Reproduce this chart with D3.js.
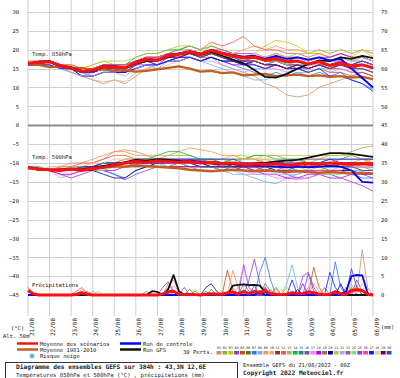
<!DOCTYPE html>
<html>
<head>
<meta charset="utf-8">
<script src="https://cdn.jsdelivr.net/npm/d3@7"></script>
<style>
  body { margin: 0; background: #fff; }
  text { font-family: "DejaVu Sans Mono", monospace; fill: #222; }
</style>
</head>
<body>
<div id="chart"></div>
<script>
// Dates (one label per day, 00Z)
const dayLabels = ["21/08","22/08","23/08","24/08","25/08","26/08","27/08","28/08","29/08",
  "30/08","31/08","01/09","02/09","03/09","04/09","05/09","06/09"];
const leftTicks = [30,25,20,15,10,5,0,-5,-10,-15,-20,-25,-30,-35,-40,-45];
const rightTicks = [0,5,10,15,20,25,30,35,40,45,50,55,60,65,70,75];

// Temperatures 850hPa, 12h steps (°C)
const mean850 = [16.4,16.6,16.8,15.8,15.2,14.2,14.6,15.6,15.4,15.2,16.6, 17.4,17.2,18.4,18.8,19.4,18.8,19.8,19,18.4,17.8,18, 17.2,17.6,16.8,17,16.2,16.8,15.8,16.4,15.6,16,15.2];
const clim850 = [16.2,16,15.4,15.6,15,15.2,14.6,14.8,14.4,14.6,14.2, 14.4,14.8,15.2,15.6,15,14.2,14.4,13.8,14,13.2,13.4, 13.6,13,13.2,13.4,13,13.2,12.8,13,12.6,12.8,12.2];
const ctrl850 = [16.4,16.8,16.8,15.6,15,14,14.6,15.8,15.6,15.2,16.8, 17.6,17.4,18.6,19,19.6,19,20,19.2,18.6,18.2,18.4, 17.6,18.4,17.6,18,17.4,18,17.2,17.6,15,12.5,10];
const gfs850 = [16.4,16.8,17,15.8,15.4,14.4,14.4,15.4,15.6,15.2,16.4, 17,17.2,18,18.8,19.2,18.6,19.4,18.4,17.4,16.4,14.6, 12.8,12.6,13.6,15,16.2,17.2,17,18,17.6,18.4,17.8];
const perts850 = [
  [16,17,17,16,14,13,12,11,12,11,13, 15,16,17,18,18,17,18,16,15,14,13, 11,10,8,7.5,8,10,11,12,13,13,12],
  [16,16,17,16,15,14,15,16,16,15,17, 18,18,19,20,20,19,21,20,19,19,19, 18,19,18,18,17,18,17,18,17,17,16],
  [16,17,17,16,15,15,16,17,16,16,17, 18,17,19,19,20,19,20,19,18,18,19, 21,22.5,22,21,19,19,18,19,18,20,19],
  [16,17,17,16,15,13,13,14,14,14,16, 17,16,18,18,19,18,19,18,17,16,17, 16,17,16,15,15,16,15,15,14,14,13],
  [17,17,17,16,16,15,15,16,15,15,16, 17,17,18,19,19,18,19,18,18,17,17, 16,16,15,15,14,15,14,14,13,14,13],
  [16,16,17,15,15,14,14,15,15,15,16, 17,17,18,19,19,19,20,19,19,18,18, 17,18,17,17,16,17,16,17,16,16,15],
  [16,17,17,16,15,14,13,14,14,14,15, 16,16,17,18,19,18,18,17,16,15,14, 13,14,13,14,13,14,13,14,12,11,9.5],
  [16,16,16,15,14,13,14,15,14,14,15, 16,15,17,17,18,17,16,15,14,13,12, 12,13,13,14,14,15,15,16,15,16,15],
  [16,17,17,16,15,15,15,16,16,16,17, 18,18,19,19,20,19,20,19,19,20,21, 20,21,20,20,19,20,19,20,19,20,19],
  [16,16,16,15,14,13,12,11.5,12,11.5,14, 15,15,16,17,18,17,18,17,17,16,16, 15,16,15,16,15,16,15,16,15,15,14],
  [16,17,17,16,15,14,15,16,16,15,17, 18,18,19,19,20,19,20,19,18,18,18, 17,17,16,17,16,17,16,17,16,16,15],
  [16,17,17,16,16,15,15,16,16,16,17, 18,18,19,20,21,20,22,21,22,23.5,21, 20,20,19,19,18,19,18,19,18,18,17],
  [16,16,17,16,15,14,14,15,15,14,16, 17,17,18,19,19,18,19,18,18,17,17, 16,17,16,16,15,16,16,17,16,16,15],
  [16,17,17,16,15,15,15,16,16,16,18, 19,19,20,20,21,20,21,20,19,18,18, 17,18,17,18,17,18,17,18,17,18,17],
  [16,16,16,15,15,14,14,15,15,15,16, 17,17,18,18,19,18,19,18,18,17,18, 17,17,16,16,16,17,16,16,15,16,15],
  [16,17,17,16,15,14,15,16,15,15,16, 17,17,18,19,19,18,19,18,17,17,18, 18,19,18,18,17,18,17,17,16,17,16],
  [16,16,17,15,15,14,14,15,15,15,17, 17,17,18,18,19,18,19,18,17,16,16, 15,15,14,15,14,15,14,15,14,15,14],
  [16,17,17,16,15,14,14,15,14,14,15, 16,16,17,18,18,17,18,17,16,16,17, 16,17,17,18,17,18,18,19,18,18,17],
  [16,16,17,16,15,14,14,15,15,15,16, 17,17,18,19,19,18,19,19,18,18,18, 17,17,16,16,15,16,15,16,16,17,16],
  [16,17,17,16,15,13,13,14,14,14,15, 16,16,17,17,18,17,18,17,17,16,17, 16,16,15,16,15,16,15,16,15,15,14],
  [16,17,17,16,16,15,16,17,17,17,18, 19,19,20,21,21,20,21,20,19,18,17, 18,19,18,19,19,20,19,20,19,20,18],
  [16,16,16,15,14,13,13,14,14,13,15, 16,16,17,17,18,17,17,16,15,14,15, 15,16,15,16,16,17,17,18,17,17,16],
  [16,17,17,16,15,14,15,16,16,16,17, 18,17,18,19,19,18,19,18,17,17,17, 16,17,16,16,15,16,15,16,15,15,14],
  [16,16,17,16,15,14,14,15,15,15,16, 17,17,18,18,19,18,19,18,18,17,17, 16,17,16,17,16,16,15,16,15,16,15],
  [16,17,17,16,15,14,14,15,15,15,16, 16,16,17,18,19,19,20,19,18,17,16, 15,16,15,16,15,16,16,17,16,17,16],
  [16,17,17,16,15,15,15,16,16,16,17, 18,18,19,19,20,19,20,20,19,19,19, 18,18,17,17,16,17,16,17,16,16,15],
  [16,16,16,15,15,14,14,15,15,14,16, 17,16,17,18,18,17,18,17,17,16,16, 15,16,15,15,14,15,13,13,12,11,9],
  [16,17,17,16,15,14,15,16,15,15,16, 17,17,18,19,20,19,20,19,19,18,19, 18,19,18,18,17,18,17,18,17,18,17],
  [16,16,17,16,15,14,14,15,15,15,16, 17,17,18,18,19,18,19,18,17,17,17, 16,16,15,16,15,16,15,16,15,16,15],
  [16,17,17,16,15,14,14,15,15,15,16, 17,17,18,19,19,19,20,19,18,18,18, 17,18,17,17,16,17,16,16,16,17,16]
];

// Temperatures 500hPa, 12h steps (°C)
const mean500 = [-11.2,-11.6,-11.8,-12,-11.6,-12,-11.4,-11.2,-10.6,-10,-9.6, -9.8,-9.4,-9.6,-9.8,-9.6,-10,-9.8,-10.2,-10,-10.4,-10.2, -10.4,-10.2,-10.6,-10.4,-10.2,-10.4,-10,-10.2,-10.4,-10.2,-10.4];
const clim500 = [-11.4,-11.6,-11.8,-11.6,-11.8,-11.6,-11.4,-11,-10.8,-11,-10.6, -10.8,-11,-11.2,-11.4,-11.8,-12,-12.2,-12,-11.8,-12,-12.2, -12,-12.2,-12.4,-12.2,-12.4,-12.6,-12.4,-12.6,-12.8,-12.6,-12.8];
const ctrl500 = [-11.2,-11.6,-11.8,-12,-11.6,-12,-11.4,-11.2,-10.6,-10,-9.6, -9.8,-9.4,-9.6,-9.8,-9.4,-9.6,-9.8,-10,-10.2,-10.4,-10.6, -10.8,-11,-11.2,-11,-11.2,-11,-10.8,-11,-12,-15,-15.2];
const gfs500 = [-11.2,-11.6,-12,-11.8,-11.6,-11.8,-11.2,-10.8,-10.4,-9.8,-9.2, -9.4,-9,-9.2,-9.4,-9.8,-10,-10.2,-10.4,-10.4,-10.6,-10.2, -10,-9.6,-9.4,-9.2,-8.6,-8,-7.4,-7.4,-7.6,-8,-8.4];
const perts500 = [
  [-11,-12,-12,-12,-11,-11,-10,-9,-7,-6.5,-7, -8,-9,-9,-10,-9,-10,-10,-11,-10,-11,-11, -12,-11,-11,-10,-11,-10,-10,-11,-10,-10,-11],
  [-11,-12,-12,-12,-12,-12,-11,-11,-10,-10,-9, -9,-9,-8,-8,-8,-9,-9,-10,-10,-9,-8, -8,-8,-9,-9,-10,-9,-8,-8,-7,-6,-5.5],
  [-11,-11,-12,-12,-12,-12,-12,-12,-11,-11,-10, -10,-9,-9,-10,-10,-10,-9,-9,-8,-8,-9, -10,-10,-11,-11,-12,-12,-11,-11,-10,-10,-9],
  [-11,-12,-12,-13,-14,-13,-12,-12,-13,-14.5,-13, -12,-11,-11,-10,-10,-11,-11,-12,-12,-11,-11, -12,-12,-13,-14,-14,-13,-13,-14,-15,-16,-17.5],
  [-11,-12,-12,-12,-11,-11,-11,-10,-10,-9,-9, -9,-10,-10,-10,-11,-11,-11,-12,-12,-12,-12, -11,-11,-11,-12,-12,-12,-12,-12,-11,-11,-11],
  [-11,-12,-12,-12,-12,-11,-11,-11,-10,-10,-9, -9,-9,-10,-10,-10,-10,-10,-10,-11,-11,-11, -10,-10,-10,-10,-11,-11,-11,-10,-10,-11,-11],
  [-11,-12,-12,-12,-12,-12,-12,-12,-13,-14,-12, -11,-10,-10,-10,-9,-9,-10,-10,-11,-11,-12, -12,-11,-11,-12,-12,-13,-12,-12,-13,-14,-14],
  [-11,-11,-12,-12,-12,-12,-11,-11,-11,-10,-10, -10,-10,-11,-11,-11,-12,-12,-12,-13,-13,-14, -15,-15.5,-14,-13,-12,-11,-11,-10,-11,-11,-12],
  [-11,-12,-11,-11,-10,-10,-9,-8,-7,-7,-8, -8,-8,-8,-7,-6,-6.5,-7,-8,-8,-9,-9, -9,-10,-10,-10,-9,-9,-9,-10,-10,-9,-9],
  [-11,-12,-12,-12,-12,-11,-11,-10,-10,-9,-9, -10,-10,-10,-11,-11,-11,-11,-10,-10,-10,-10, -9,-9,-9,-10,-10,-11,-11,-11,-12,-12,-12],
  [-11,-12,-12,-12,-11,-11,-11,-11,-10,-10,-10, -10,-10,-10,-10,-10,-11,-11,-11,-11,-11,-11, -11,-11,-10,-10,-10,-10,-10,-11,-11,-11,-11],
  [-11,-12,-12,-11,-11,-10,-10,-9,-8,-8,-9, -9,-9,-9,-10,-10,-10,-10,-10,-9,-9,-9, -10,-10,-10,-11,-11,-10,-10,-9,-9,-9,-10],
  [-11,-12,-12,-12,-12,-12,-11,-11,-11,-11,-10, -10,-10,-10,-9,-9,-9,-9,-9,-10,-10,-10, -10,-11,-11,-11,-11,-11,-11,-11,-11,-12,-12],
  [-11,-11,-12,-12,-11,-11,-11,-10,-10,-10,-10, -9,-8,-7,-7,-8,-9,-9,-10,-9,-9,-8, -8,-9,-9,-9,-10,-10,-9,-9,-8,-9,-9],
  [-11,-12,-12,-12,-12,-12,-12,-11,-11,-11,-10, -10,-10,-10,-10,-11,-11,-11,-11,-12,-12,-12, -12,-12,-11,-11,-11,-11,-12,-12,-12,-12,-12],
  [-11,-12,-12,-12,-12,-11,-11,-11,-10,-10,-9, -9,-10,-10,-10,-10,-10,-11,-11,-11,-10,-10, -10,-10,-10,-9,-9,-9,-9,-10,-10,-10,-10],
  [-11,-12,-12,-14,-13,-12,-12,-11,-11,-11,-11, -11,-11,-11,-11,-11,-12,-12,-12,-12,-12,-13, -13,-14,-14,-14.5,-14,-13,-12,-12,-11,-11,-12],
  [-11,-12,-12,-13,-13,-12,-12,-12,-12,-11,-10, -10,-10,-10,-10,-10,-10,-10,-11,-11,-11,-12, -13,-13,-14,-14,-13,-13,-14,-14,-13,-13,-13],
  [-11,-12,-12,-12,-12,-11,-11,-10,-10,-10,-10, -10,-10,-10,-10,-10,-10,-10,-10,-10,-10,-10, -10,-10,-11,-11,-11,-11,-11,-11,-11,-11,-11],
  [-11,-12,-12,-12,-12,-12,-12,-13,-14,-14,-12, -11,-10,-10,-10,-10,-10,-11,-11,-11,-11,-11, -11,-12,-12,-12,-12,-12,-12,-12,-12,-13,-13],
  [-11,-12,-12,-12,-12,-11,-11,-10,-10,-9,-9, -9,-9,-9,-9,-9,-9,-9,-9,-9,-9,-9, -8,-8,-8,-8,-8,-8,-8,-8,-8,-9,-9],
  [-11,-12,-12,-12,-12,-12,-11,-11,-11,-11,-10, -10,-10,-10,-10,-11,-11,-11,-12,-12,-13,-13, -13,-13,-13,-13,-12,-12,-12,-11,-11,-11,-11],
  [-11,-12,-12,-12,-11,-11,-11,-10,-10,-10,-10, -10,-10,-10,-10,-10,-10,-10,-10,-11,-11,-11, -11,-11,-11,-10,-10,-10,-10,-10,-10,-10,-11],
  [-11,-11,-12,-12,-12,-12,-12,-12,-11,-11,-11, -11,-11,-10,-10,-10,-10,-10,-10,-10,-10,-10, -11,-11,-11,-12,-12,-13,-13,-13,-12,-12,-12],
  [-11,-12,-12,-12,-12,-12,-12,-11,-11,-10,-10, -10,-10,-10,-10,-10,-10,-10,-10,-10,-11,-11, -11,-10,-10,-10,-10,-10,-11,-11,-12,-13,-14],
  [-11,-12,-12,-12,-12,-11,-11,-11,-10,-10,-10, -10,-9,-9,-9,-9,-10,-10,-10,-10,-10,-11, -11,-11,-12,-12,-12,-12,-12,-12,-13,-13,-13],
  [-11,-12,-12,-12,-12,-11,-11,-10,-10,-10,-9, -9,-9,-9,-9,-9,-9,-9,-9,-9,-10,-10, -10,-10,-10,-10,-10,-10,-9,-9,-9,-9,-9],
  [-11,-12,-12,-12,-11,-11,-10,-10,-9,-9,-9, -9,-9,-10,-10,-10,-10,-10,-10,-10,-9,-9, -9,-9,-10,-10,-10,-10,-10,-10,-11,-11,-11],
  [-11,-12,-12,-12,-12,-12,-12,-11,-11,-11,-11, -11,-11,-11,-11,-11,-11,-11,-11,-11,-11,-11, -11,-11,-11,-10,-10,-10,-10,-10,-10,-10,-10],
  [-11,-12,-12,-12,-12,-11,-11,-11,-11,-10,-10, -10,-10,-10,-10,-10,-11,-11,-11,-11,-12,-12, -12,-12,-12,-11,-11,-11,-11,-11,-11,-12,-12]
];

// Precipitation, 6h steps (mm)
const meanPrecip = [1.2,0.3,0,0,0, 0,0,0,0,0.2, 0.6,0.2,0,0,0, 0,0,0,0,0, 0,0,0,0,0, 0.3,0.8,1,0.2,0.1, 0.1,0.1,0,0.2,0.3, 0.2,0.2,0.6,0.8,0.2, 1,0.3,1,0.6,1.2, 0.3,0.2,0.1,0.2,0.6, 0.3,0.4,0.8,0.6,0.2, 0.1,0.2,0.8,0.3,0.2, 1.2,1.4,1.2,0.2,0];
const ctrlPrecip = [0,0,0,0,0, 0,0,0,0,0, 0.5,0,0,0,0, 0,0,0,0,0, 0,0,0,0,0, 0,0,0,0,0, 0,0,0,0,0, 0,0,0,0,0, 0,0,0,1,0, 0,0,0,0,0, 0,0,0,0,0, 0,0,0,0,1, 5,5.3,5.2,0.5,0];
const gfsPrecip = [0,0,0,0,0, 0,0,0,0,0, 0,0,0,0,0, 0,0,0,0,0, 0,0,0,1,0.8, 0,1.5,5.3,1,0, 0,0,0,0,0, 0,0,0,2.5,2.7, 2.8,2.6,2.7,2.5,0.8, 0,0,0,0,0, 0,0,0,0,0, 0,0,1,0.5,0, 0,0,0,0,0];
const pertsPrecip = [
  [1,0,0,0,0, 0,0,0,0,0, 0,0,0,0,0, 0,0,0,0,0, 0,0,0,0,0, 0,3,1,0,0, 0,0,0,0,0, 0,0,0,0,0, 0,0,0,0,0, 0,0,0,0,0, 0,0,0,3,1, 0,0,0,0,0, 0,0,12,2,0],
  [0,0,0,0,0, 0,0,0,0,0, 1,0,0,0,0, 0,0,0,0,0, 0,0,0,0,0, 0,0,0,0,0, 0,0,0,0,0, 0,0,0,2,0, 0,0,0,0,0, 1.5,0,0,0,0, 0,0,0,0,0, 0,0,0,0,0, 0,0,0,0,0],
  [0,0,0,0,0, 0,0,0,0,0, 0,0,0,0,0, 0,0,0,0,0, 0,0,0,0,0, 0,0,0,0,0, 0,0,0,0,0, 0,1,0,0,0, 0,0,0,0,0, 0,0,0,2,1, 0,0,0,0,0, 0,0,0,0,0, 0,0,0,0,0],
  [0,0,0,0,0, 0,0,0,0,0, 0,0,0,0,0, 0,0,0,0,0, 0,0,0,0,0, 2,3.5,1,0,0, 0,0,0,0,0, 0,0,0,0,0, 0,4,9.5,3,0, 0,0,0,0,0, 0,5,6,2,0, 0,0,0,0,0, 0,0,0,0,0],
  [0,0,0,0,0, 0,0,0,0,0, 0,0,0,0,0, 0,0,0,0,0, 0,0,0,0,0, 0,0,0,0,0, 0,0,0,0,0, 0,0,6.6,1,0, 0,0,0,0,0, 0,0,0,0,0, 0,0,0,7.4,2, 0,0,0,0,0, 0,0,0,0,0],
  [0,0,0,0,0, 0,0,0,0,0, 0,1,0,0,0, 0,0,0,0,0, 0,0,0,0,0, 0,0,0,0,0, 1.5,0,0,0,0, 0,0,0,0,0, 0,0,0,0,2, 0,0,0,0,0, 0,0,0,0,0, 0,0,0,0,0, 0,0,0,0,0],
  [0,0,0,0,0, 0,0,0,0,0, 0,0,0,0,0, 0,0,0,0,0, 0,0,0,0,0, 0,0,0,0,0, 0,0,0,0,0, 0,0,0,0,0, 0,0,0,6,10, 4,0,0,0,0, 0,0,0,0,0, 0,0,8.8,2,0, 0,0,0,0,0],
  [0,0,0,0,0, 0,0,0,0,0, 0,0,1,0,0, 0,0,0,0,0, 0,0,0,0,0, 0,0,0,0,0, 0,0,0,0,0, 0,0,0,0,0, 0,0,0,0,0, 0,0,0,3,8, 2,0,0,0,0, 0,0,0,0,0, 0,0,0,0,0],
  [0,0,0,0,0, 0,0,0,0,0, 0,0,0,0,0, 0,0,0,0,0, 0,0,0,0,0, 0,2,4,1,0, 0,0,0,0,0, 0,0,0,6.5,2, 0,0,0,0,0, 0,0,0,0,0, 0,0,0,0,0, 0,0,0,0,0, 0,0,0,0,0],
  [0,0,0,0,0, 0,0,0,0,0, 1.5,0.5,0,0,0, 0,0,0,0,0, 0,0,0,0,0, 0,0,0,0,0, 0,0,0,0,0, 1,0,0,0,0, 0,0,0,0,0, 0,0,0,0,0, 0,0,0,0,0, 0,0,0,0,0, 0,0,0,0,0],
  [2,0.5,0,0,0, 0,0,0,0,0, 0,0,0,0,0, 0,0,0,0,0, 0,0,0,0,0, 0,0,0,0,0, 0,0,0,0,1.5, 0,0,0,0,0, 0,0,0,0,0, 0,0,0,0,0, 0,0,0,0,0, 0,0,0,0,0, 0,0,0,0,0],
  [0,0,0,0,0, 0,0,0,0,1, 2,0.5,0,0,0, 0,0,0,0,0, 0,0,0,0,0, 0,0,0,0,0, 0,0,0,0,0, 0,0,0,0,0, 0,0,0,0,0, 0,0,0,0,0, 0,0,0,0,0, 0,0,0,0,0, 2,0,0,0,0],
  [0,0,0,0,0, 0,0,0,0,0, 0,0,0,0,0, 0,0,0,0,0, 0,0,0,0,0, 0,0,0,0,0, 0,0,0,0,0, 0,0,0,0,0, 0,0,0,0,0, 0,1.5,0,0,0, 0,0,0,0,0, 0,0,0,0,0, 3,0,0,0,0],
  [0,0,0,0,0, 0,0,0,0,0, 0,0,0,0,0, 0,0,0,0,0, 0,0,1,0,0, 0,0,0,0,0, 0,0,0,1,0, 0,0,0,0,0, 0,0,0,0,0, 0,0,0,0,0, 1,0,0,0,0, 0,0,0,0,0, 0,0,0,0,0],
  [0,0,0,0,0, 0,0,0,0,0, 0,0,0,0,0, 0,0,0,0,0, 0,0,0,0,0, 0,0,0,0,0, 0,0,0,0,0, 0,0,0,0,0, 3,1,0,0,0, 0,0,0,0,0, 0,0,0,0,0, 0,0,0,0,2, 0,0,0,0,0],
  [0,0,0,0,0, 0,0,0,0,0, 0,0,0,0,0, 0,0,0,0,0, 0,0,0,0,0, 0,0,0,0,0, 0,0,0,0,0, 0,0,0,0,0, 0,0,0,0,3, 1,0,0,0,0, 0,0,0,0,0, 0,0,0,0,0, 0,4,1,0,0],
  [0,0,0,0,0, 0,0,0,0,0, 0,0,0,0,0, 0,0,0,0,0, 0,0,0,0,0, 0,0,2.5,1,0, 0,0,0,0,0, 0,0,0,0,0, 0,0,0,0,0, 0,0,0,0,0, 0,0,2,0,0, 0,0,0,0,0, 0,0,0,0,0],
  [0,0,0,0,0, 0,0,0,0,0, 0,0,0,0,0, 0,0,0,0,0, 0,0,0,0,0, 0,0,0,0,0, 0,0,0,0,0, 0,0,0,0,0, 8,2,0,0,0, 0,0,0,0,0, 0,3,0,0,0, 0,0,0,0,0, 0,0,0,0,0],
  [0,0,0,0,0, 0,0,0,0,0, 0,0,0,0,0, 0,0,0,0,0, 0,0,0,0,0, 0,0,0,0,0, 0,1,0,0,0, 0,0,0,0,0, 0,0,0,0,0, 0,2,0,0,0, 0,0,0,0,0, 0,0,0,0,0, 0,0,0,0,0],
  [0,0,0,0,0, 0,0,0,0,0, 0,0,0,0,0, 0,0,0,0,0, 0,0,0,0,0, 0,0,0,0,0, 0,0,0,2,3, 1,0,0,0,0, 0,0,0,0,0, 0,0,0,0,0, 0,0,0,0,0, 0,0,0,3,0, 0,0,0,0,0],
  [0,0,0,0,0, 0,0,0,0,0, 0,0,0,0,0, 0,0,0,0,0, 0,0,0,0,0, 0,0,0,0,0, 0,0,0,0,0, 0,0,0,0,0, 0,0,0,0,0, 0,0,1.5,0,0, 0,0,0,0,0, 0,0,0,0,0, 0,0,0,0,0],
  [0,0,0,0,0, 0,0,0,0,0, 0,0,0,0,0, 0,0,0,0,0, 0,0,0,0,0, 0,0,0,0,0, 0,0,0,0,0, 0,0,0,0,2, 7.5,2,0,0,0, 0,0,0,0,0, 0,0,0,0,0, 0,0,0,0,0, 0,0,0,0,0],
  [0,0,0,0,0, 0,0,0,0,0, 0,0,0,0,0, 0,0,0,0,0, 0,0,0,0,0, 0,1.5,0,0,0, 0,0,0,0,0, 0,0,0,0,0, 0,0,0,0,0, 0,0,0,0,0, 0,0,0,0,0, 2,0,0,0,0, 0,0,0,0,0],
  [0,0,0,0,0, 0,0,0,0,0, 0,0,0,1,0, 0,0,0,0,0, 0,0,0,0,0, 0,0,0,0,0, 0,1.5,0,0,0, 0,0,0,0,0, 0,0,0,0,0, 0,0,0,0,0, 0,0,0,0,0, 0,0,0,0,0, 0,0,0,0,0],
  [0,0,0,0,0, 0,0,0,0,0, 0,0,0,0,0, 0,0,0,0,0, 0,0,0,0,0, 0,0,0,0,2, 0,0,0,0,0, 0,0,0,0,0, 0,0,0,0,0, 0,0,0,0,0, 0,0,5.8,1,0, 0,0,0,0,0, 0,0,0,0,0],
  [0,0,0,0,0, 0,0,0,0,0, 0,0,0,0,0, 0,0,0,0,0, 0,0,0,0,0, 0,0,0,0,0, 0,0,0,0,0, 0,0,0,0,0, 0,0,0,0,2, 0,0,0,0,0, 0,0,0,0,0, 0,0,0,0,0, 0,2.5,0,0,0],
  [0,0,0,0,0, 0,0,0,0,0, 0,0,0,0,0, 0,0,0,0,0, 0,0,0,0,0, 0,0,0,0,0, 0,0,0,0,0, 0,0,0,0,0, 0,0,0,0,0, 0,0,0,0,4, 0,0,0,0,0, 0,6,2,0,0, 0,0,0,0,0],
  [0,0,0,0,0, 0,0,0,0,0, 0,0,0,0,0, 0,0,0,0,0, 0,0,0,0,0, 0,0,0,0,0, 0,0,0,0,0, 0,1.5,0,0,0, 0,0,0,0,0, 0,0,0,0,0, 0,0,0,0,0, 0,0,0,0,0, 0,0,3,0,0],
  [0,0,0,0,0, 0,0,0,0,0, 0,0,0,0,0, 0,0,0,0,0, 0,0,0,0,0, 0,0,0,1,0, 0,0,0,0,0, 0,0,0,0,0, 0,0,0,0,0, 0,0,0,0,0, 1.5,0,0,0,0, 0,0,0,0,0, 0,0,0,0,0],
  [0,0,0,0,0, 0,0,0,0,0, 0,0,0,0,0, 0,0,0,0,0, 0,0,0,0,0, 0,0,0,0,0, 0,0,0,0,0, 0,0,0,0,0, 0,0,2.5,0,0, 0,0,0,0,0, 0,0,0,0,0, 0,0,0,0,0, 7,2,0,0,0]
];

const pertColors = ["#d09060","#90b040","#c8c800","#9040c0","#c05010","#607800","#3070ff","#70b0f0",
  "#ff9050","#e0b090","#804020","#ff5050","#b0b060","#00c040","#308080","#6060a0","#ff80e0",
  "#b000ff","#907050","#0000a0","#c0c040","#b0a0ff","#906090","#80e080","#8040ff","#ff40a0",
  "#0020ff","#e8c8a0","#800040","#4040c0"];
const pertNames = d3.range(1, 31).map(d => String(d).padStart(2, '0'));

// Chart setup
const width = 400;
const height = 378;
const plot = { left: 28, right: 373, top: 0, bottom: 316 };

const svg = d3.select('#chart')
  .append('svg')
  .attr('width', width)
  .attr('height', height);

svg.append('rect').attr('width', width).attr('height', height).attr('fill', '#fff');

const x = d3.scaleLinear().domain([0, 384]).range([plot.left, plot.right]);
const yT = d3.scaleLinear().domain([-45, 30]).range([295, 12]);
const yP = d3.scaleLinear().domain([0, 75]).range([295, 12]);
const dayHours = dayLabels.map((d, i) => i * 24);

// Grid
const grid = svg.append('g');
grid.selectAll('.vgrid')
  .data(dayHours)
  .enter()
  .append('line')
  .attr('x1', d => x(d)).attr('x2', d => x(d))
  .attr('y1', plot.top).attr('y2', plot.bottom)
  .attr('stroke', '#cfcfcf')
  .attr('stroke-width', 1);

grid.selectAll('.hgrid')
  .data(leftTicks)
  .enter()
  .append('line')
  .attr('x1', plot.left).attr('x2', plot.right)
  .attr('y1', d => Math.round(yT(d)) + 0.5).attr('y2', d => Math.round(yT(d)) + 0.5)
  .attr('stroke', d => d === 0 ? '#8c8c8c' : '#cfcfcf')
  .attr('stroke-width', d => d === 0 ? 2 : 1);

// Axes
const leftAxis = svg.append('g')
  .attr('transform', 'translate(19,0)')
  .call(d3.axisLeft(yT).tickValues(leftTicks).tickSize(0).tickPadding(0));
const rightAxis = svg.append('g')
  .attr('transform', 'translate(381,0)')
  .call(d3.axisRight(yP).tickValues(rightTicks).tickSize(0).tickPadding(0));
[leftAxis, rightAxis].forEach(a => {
  a.select('.domain').remove();
  a.attr('font-family', null).attr('font-size', null);
  a.selectAll('text').attr('font-size', '5.5px').attr('fill', '#222');
});

const dateAxis = svg.append('g')
  .attr('transform', `translate(0,${plot.bottom})`)
  .call(d3.axisBottom(x).tickValues(dayHours).tickFormat((d, i) => dayLabels[i]).tickSize(0));
dateAxis.select('.domain').remove();
dateAxis.attr('font-family', null).attr('font-size', null);
dateAxis.selectAll('text')
  .attr('transform', 'rotate(-90)')
  .attr('text-anchor', 'end')
  .attr('x', -2)
  .attr('y', 5)
  .attr('dy', 0)
  .attr('font-size', '6px')
  .attr('fill', '#222');

// Section labels
const sectionLabels = [
  { text: 'Temp. 850hPa', x: 32, y: 56 },
  { text: 'Temp. 500hPa', x: 32, y: 159 },
  { text: 'Précipitations', x: 32, y: 287 }
];
svg.selectAll('.section')
  .data(sectionLabels)
  .enter()
  .append('text')
  .attr('x', d => d.x)
  .attr('y', d => d.y)
  .attr('font-size', '5.5px')
  .text(d => d.text);

// Line generators
const lineT = d3.line().x((d, i) => x(i * 12)).y(d => yT(d));
const lineP = d3.line().x((d, i) => x(i * 6)).y(d => yP(d));

const members = svg.append('g').attr('fill', 'none').attr('stroke-width', 0.8);
[perts850, perts500].forEach(set => {
  members.selectAll(null)
    .data(set)
    .enter()
    .append('path')
    .attr('d', lineT)
    .attr('stroke', (d, i) => pertColors[i]);
});
members.selectAll(null)
  .data(pertsPrecip)
  .enter()
  .append('path')
  .attr('d', lineP)
  .attr('stroke', (d, i) => pertColors[i]);

// Thick lines: climate, GFS, control, ensemble mean
const thick = [
  { data: clim850, gen: lineT, color: '#c0601c', w: 2.4 },
  { data: clim500, gen: lineT, color: '#c0601c', w: 2.4 },
  { data: gfs850, gen: lineT, color: '#101010', w: 1.8 },
  { data: gfs500, gen: lineT, color: '#101010', w: 1.8 },
  { data: gfsPrecip, gen: lineP, color: '#101010', w: 1.8 },
  { data: ctrl850, gen: lineT, color: '#0000ff', w: 1.8 },
  { data: ctrl500, gen: lineT, color: '#0000ff', w: 1.8 },
  { data: ctrlPrecip, gen: lineP, color: '#0000ff', w: 1.8 },
  { data: mean850, gen: lineT, color: '#ff1010', w: 3 },
  { data: mean500, gen: lineT, color: '#ff1010', w: 3 },
  { data: meanPrecip, gen: lineP, color: '#ff1010', w: 3 }
];
svg.append('g').attr('fill', 'none')
  .selectAll('path')
  .data(thick)
  .enter()
  .append('path')
  .attr('d', d => d.gen(d.data))
  .attr('stroke', d => d.color)
  .attr('stroke-width', d => d.w)
  .attr('stroke-linejoin', 'round');

// Unit labels
svg.append('text').attr('x', 11).attr('y', 330).attr('font-size', '5.5px').text('(°C)');
svg.append('text').attr('x', 3).attr('y', 338).attr('font-size', '5.5px').text('Alt. 50m');
svg.append('text').attr('x', 381).attr('y', 329).attr('font-size', '5.5px').text('(mm)');

// Legend
const legendItems = [
  { label: 'Moyenne des scénarios', color: '#ff1010', x: 17, y: 343.5 },
  { label: 'Moyenne 1981-2010', color: '#c0601c', x: 17, y: 349.5 },
  { label: 'Run de controle', color: '#0000ff', x: 120, y: 343.5 },
  { label: 'Run GFS', color: '#101010', x: 120, y: 349.5 }
];
const legend = svg.append('g');
legend.selectAll('line')
  .data(legendItems)
  .enter()
  .append('line')
  .attr('x1', d => d.x).attr('x2', d => d.x + 21)
  .attr('y1', d => d.y).attr('y2', d => d.y)
  .attr('stroke', d => d.color)
  .attr('stroke-width', 2.5);
legend.selectAll('text')
  .data(legendItems)
  .enter()
  .append('text')
  .attr('x', d => d.x + 23)
  .attr('y', d => d.y + 2)
  .attr('font-size', '5.5px')
  .text(d => d.label);

// Snow risk marker
const snow = legend.append('g').attr('transform', 'translate(32,356)');
snow.append('circle').attr('r', 2.6).attr('fill', '#bfe8f5');
[0, 60, 120].forEach(a => {
  snow.append('line')
    .attr('x1', -2.6).attr('x2', 2.6)
    .attr('transform', `rotate(${a})`)
    .attr('stroke', '#2aa0d0')
    .attr('stroke-width', 0.8);
});
legend.append('text').attr('x', 40).attr('y', 358).attr('font-size', '5.5px').text('Risque neige');

// Perturbation palette
legend.append('text').attr('x', 183).attr('y', 354).attr('font-size', '5.5px').text('30 Perts.');
const cellX = d3.scaleBand().domain(pertNames).range([216, 392]);
legend.selectAll('.pname')
  .data(pertNames)
  .enter()
  .append('text')
  .attr('x', d => cellX(d) + cellX.bandwidth() / 2)
  .attr('y', 349)
  .attr('text-anchor', 'middle')
  .attr('font-size', '3.4px')
  .text(d => d);
legend.selectAll('.pcell')
  .data(pertNames)
  .enter()
  .append('rect')
  .attr('x', d => cellX(d) + 0.5)
  .attr('y', 351)
  .attr('width', cellX.bandwidth() - 1)
  .attr('height', 3.5)
  .attr('fill', (d, i) => pertColors[i]);

// Title box
svg.append('rect')
  .attr('x', 5.5).attr('y', 362.5)
  .attr('width', 232).attr('height', 20)
  .attr('fill', '#fff')
  .attr('stroke', '#333');
svg.append('text').attr('x', 16).attr('y', 369).attr('font-size', '6.2px').attr('font-weight', 'bold')
  .text('Diagramme des ensembles GEFS sur 384h : 43,3N 12,6E');
svg.append('text').attr('x', 16).attr('y', 376.5).attr('font-size', '5.6px')
  .text('Températures 850hPa et 500hPa (°C) , précipitations (mm)');
svg.append('text').attr('x', 243).attr('y', 366.5).attr('font-size', '5.4px')
  .text('Ensemble GEFS du 21/08/2022 - 00Z');
svg.append('text').attr('x', 243).attr('y', 375).attr('font-size', '6.2px').attr('font-weight', 'bold')
  .text('Copyright 2022 Meteociel.fr');
</script>
</body>
</html>
